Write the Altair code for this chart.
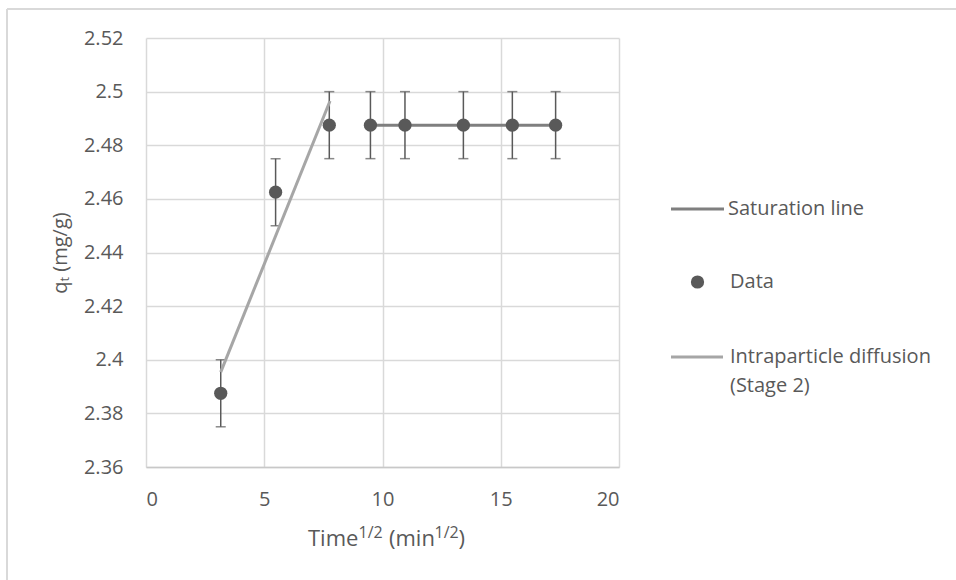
import altair as alt
import pandas as pd

# ---- data ----
time_sqrt = [3.16, 5.48, 7.75, 9.49, 10.95, 13.42, 15.49, 17.32]
qt = [2.3875, 2.4625, 2.4875, 2.4875, 2.4875, 2.4875, 2.4875, 2.4875]
err = [0.0125, 0.0125, 0.0125, 0.0125, 0.0125, 0.0125, 0.0125, 0.0125]

sat_x = [9.49, 17.32]
sat_y = [2.4875, 2.4875]

ip_x = [3.16, 7.78]
ip_y = [2.3954, 2.4965]

x_ticks = [0, 5, 10, 15, 20]
y_ticks = [2.36, 2.38, 2.40, 2.42, 2.44, 2.46, 2.48, 2.50, 2.52]

legend_labels = ["Saturation line", "Data", "Intraparticle diffusion", "(Stage 2)"]
x_title_main = ["Time", "(min", ")"]
x_title_sup = ["1/2", "1/2"]

FONT = "Open Sans"
TXT = "#595959"

pts = pd.DataFrame({
    "x": time_sqrt,
    "y": qt,
    "lo": [a - b for a, b in zip(qt, err)],
    "hi": [a + b for a, b in zip(qt, err)],
})
sat = pd.DataFrame({"x": sat_x, "y": sat_y})
ip = pd.DataFrame({"x": ip_x, "y": ip_y})

xs = alt.Scale(domain=[0, 20], nice=False, zero=False)
ys = alt.Scale(domain=[2.36, 2.52], nice=False, zero=False)

x_axis = alt.Axis(
    values=x_ticks, format="d", title=None,
    grid=True, gridColor="#d9d9d9", gridWidth=1.5,
    ticks=False, domain=True, domainColor="#c8c8c8", domainWidth=1.5,
    labelPadding=32, labelBaseline="middle",
)
y_axis = alt.Axis(
    values=y_ticks, format=".3~g", title="qₜ (mg/g)",
    grid=True, gridColor="#d9d9d9", gridWidth=1.5,
    ticks=False, domain=False, labelPadding=23,
    titleX=-86, titleY=214.5, titleAngle=-90, titleBaseline="middle",
    titleAnchor="middle",
)

base_x = alt.X("x:Q", scale=xs, axis=x_axis)
base_y = alt.Y("y:Q", scale=ys, axis=y_axis)

sat_line = alt.Chart(sat).mark_line(color="#7f7f7f", strokeWidth=3).encode(
    x=base_x, y=base_y
)

err_rule = alt.Chart(pts).mark_rule(color="#595959", strokeWidth=1.5).encode(
    x=alt.X("x:Q", scale=xs), y=alt.Y("lo:Q", scale=ys), y2="hi:Q"
)
cap_lo = alt.Chart(pts).mark_tick(
    color="#595959", orient="horizontal", size=10, thickness=1.5
).encode(x=alt.X("x:Q", scale=xs), y=alt.Y("lo:Q", scale=ys))
cap_hi = alt.Chart(pts).mark_tick(
    color="#595959", orient="horizontal", size=10, thickness=1.5
).encode(x=alt.X("x:Q", scale=xs), y=alt.Y("hi:Q", scale=ys))

points = alt.Chart(pts).mark_circle(color="#595959", size=175, opacity=1).encode(
    x=alt.X("x:Q", scale=xs), y=alt.Y("y:Q", scale=ys)
)

ip_line = alt.Chart(ip).mark_line(color="#a6a6a6", strokeWidth=3).encode(
    x=alt.X("x:Q", scale=xs), y=alt.Y("y:Q", scale=ys)
)

# ---- x-axis title with superscripts ----
xt_main = pd.DataFrame({"t": x_title_main, "px": [162, 243, 312.5], "py": [508, 508, 508]})
xt_sup = pd.DataFrame({"t": x_title_sup, "px": [212.5, 288.5], "py": [500, 500]})
x_title_a = alt.Chart(xt_main).mark_text(
    align="left", baseline="alphabetic", font=FONT, fontSize=22, color=TXT
).encode(text="t:N", x=alt.X("px:Q", scale=None), y=alt.Y("py:Q", scale=None))
x_title_b = alt.Chart(xt_sup).mark_text(
    align="left", baseline="alphabetic", font=FONT, fontSize=16, color=TXT
).encode(text="t:N", x=alt.X("px:Q", scale=None), y=alt.Y("py:Q", scale=None))

# ---- legend (drawn at the right of the plot) ----
one = pd.DataFrame({"k": [0]})
leg_sat = alt.Chart(one).mark_rule(color="#7f7f7f", strokeWidth=3).encode(
    x=alt.value(525), x2=alt.value(578), y=alt.value(171)
)
leg_data = alt.Chart(one).mark_point(
    color="#595959", filled=True, size=175, shape="circle", opacity=1
).encode(x=alt.value(551.5), y=alt.value(244))
leg_ip = alt.Chart(one).mark_rule(color="#a6a6a6", strokeWidth=3).encode(
    x=alt.value(525), x2=alt.value(577), y=alt.value(319)
)
leg_df = pd.DataFrame({
    "label": legend_labels,
    "px": [582, 584, 584, 584],
    "py": [171, 244, 319, 348],
})
leg_text = alt.Chart(leg_df).mark_text(
    align="left", baseline="middle", font=FONT, fontSize=20, color=TXT
).encode(
    text="label:N",
    x=alt.X("px:Q", scale=None),
    y=alt.Y("py:Q", scale=None),
)

# ---- outer chart border ----
border_v = alt.Chart(one).mark_rule(color="#d9d9d9", strokeWidth=2).encode(
    x=alt.value(-139), y=alt.value(-29), y2=alt.value(700)
)
border_h = alt.Chart(one).mark_rule(color="#d9d9d9", strokeWidth=2).encode(
    x=alt.value(-139), x2=alt.value(900), y=alt.value(-29)
)

chart = alt.layer(
    sat_line, err_rule, cap_lo, cap_hi, points, ip_line,
    x_title_a, x_title_b,
    leg_sat, leg_data, leg_ip, leg_text, border_v, border_h,
).properties(
    width=473, height=429,
    autosize=alt.AutoSizeParams(type="none"),
    padding={"left": 146, "top": 38, "right": 337, "bottom": 113},
    background="white",
).configure_view(
    stroke=None
).configure_axis(
    labelFont=FONT, labelFontSize=20, labelColor=TXT,
    titleFont=FONT, titleFontSize=20, titleColor=TXT, titleFontWeight="normal",
)

chart.save("out.html", embed_options={"renderer": "svg", "actions": False})
